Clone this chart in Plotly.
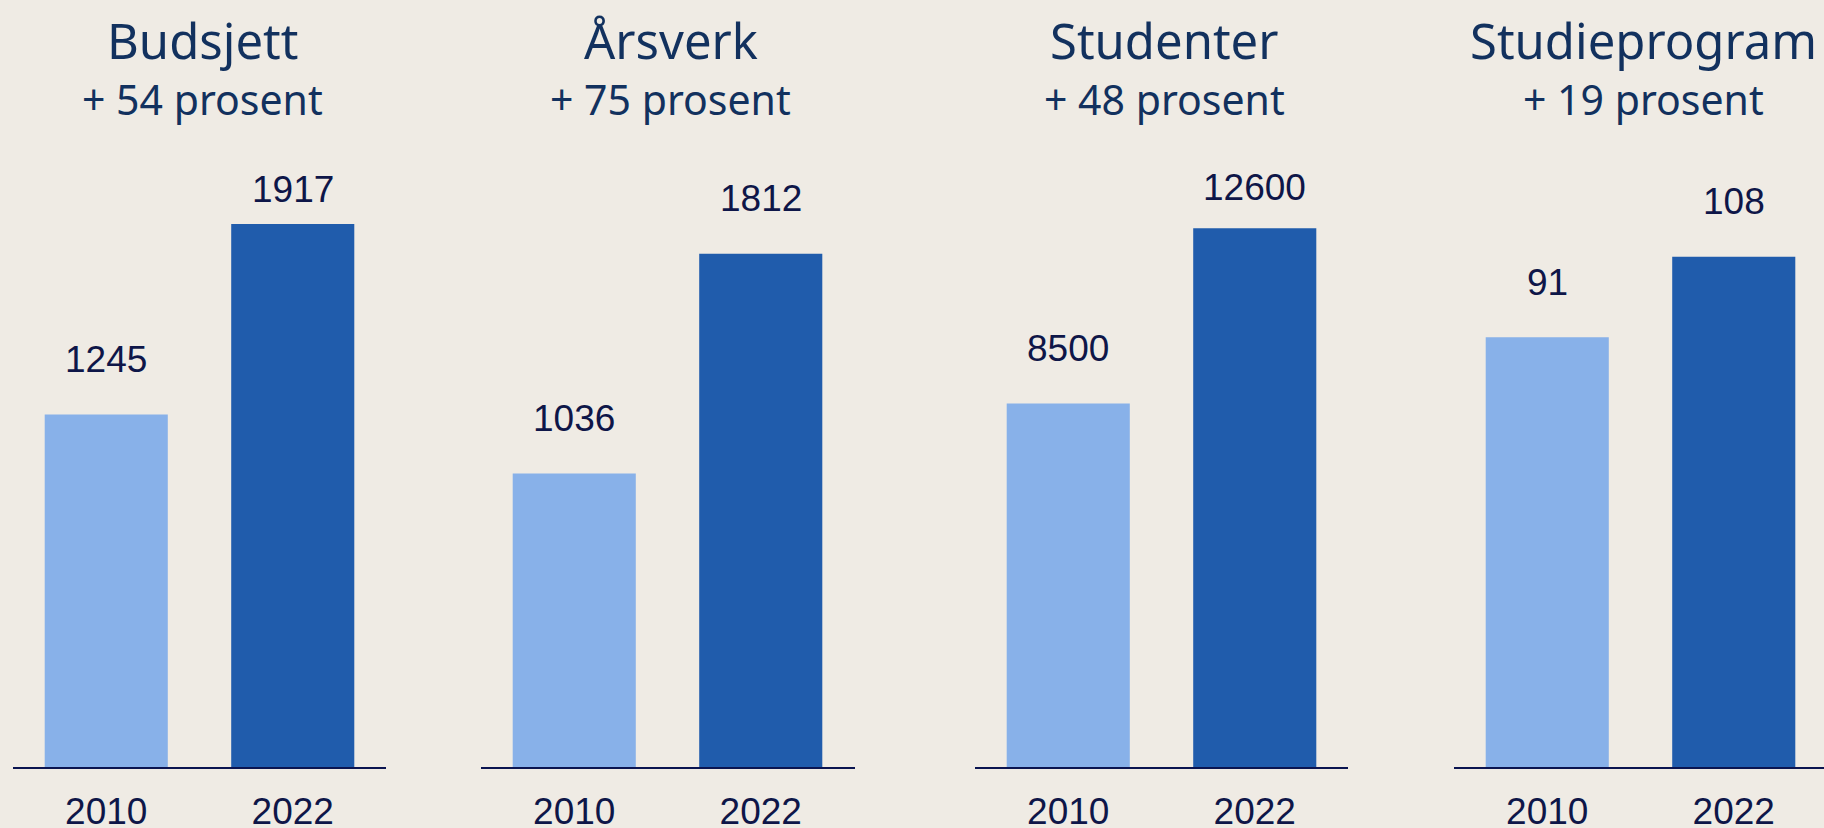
import plotly.graph_objects as go

# ---- data ----
categories = ["2010", "2022"]
panel_titles = ["Budsjett", "Årsverk", "Studenter", "Studieprogram"]
panel_subtitles = ["+ 54 prosent", "+ 75 prosent", "+ 48 prosent", "+ 19 prosent"]
values_2010 = [1245, 1036, 8500, 91]
values_2022 = [1917, 1812, 12600, 108]

# ---- style / layout ----
W, H = 1824, 828
BG = "#EFEBE4"
LIGHT = "#88B1E9"
DARK = "#205CAC"
TITLE_COLOR = "#12315E"
LABEL_COLOR = "#0E1648"
AXIS_COLOR = "#0A1450"

x_domains_px = [(13, 386), (481, 855), (975, 1348), (1454, 1824)]
unit_px = 186.5
y_max = [2355, 2355, 15600, 141.2]
baseline_px = 767
top_px = 100
label_shift = [[55, 35], [55, 55], [55, 41], [55, 55]]

fig = go.Figure()
annotations = []
for i in range(4):
    n = "" if i == 0 else str(i + 1)
    xa, ya = "x" + n, "y" + n
    fig.add_trace(go.Bar(
        x=categories,
        y=[values_2010[i], values_2022[i]],
        marker=dict(color=[LIGHT, DARK], line=dict(width=0)),
        xaxis=xa, yaxis=ya, hoverinfo="skip", showlegend=False,
    ))
    x0, x1 = x_domains_px[i]
    span_units = (x1 - x0) / unit_px
    fig.layout["xaxis" + n] = dict(
        domain=[x0 / W, x1 / W], anchor=ya, type="category",
        range=[-0.5, -0.5 + span_units], automargin=False,
        showline=True, linecolor=AXIS_COLOR, linewidth=1.5,
        showgrid=False, zeroline=False, ticks="",
        tickfont=dict(family="Liberation Sans, Arial", size=37, color=LABEL_COLOR),
        ticklabelstandoff=11,
    )
    fig.layout["yaxis" + n] = dict(
        domain=[(H - baseline_px) / H, (H - top_px) / H], anchor=xa,
        range=[0, y_max[i]], visible=False, showgrid=False, zeroline=False,
        automargin=False,
    )
    vals = [values_2010[i], values_2022[i]]
    for j in range(len(categories)):
        annotations.append(dict(
            x=j, y=vals[j], xref=xa, yref=ya, text=str(vals[j]),
            showarrow=False, yanchor="middle", yshift=label_shift[i][j],
            font=dict(family="Liberation Sans, Arial", size=37, color=LABEL_COLOR),
        ))
    annotations.append(dict(
        x=0.5, y=1 - 40 / H, xref=xa, yref="paper", text=panel_titles[i],
        showarrow=False, yanchor="middle", xshift=3,
        font=dict(family="Noto Sans", size=49, color=TITLE_COLOR),
    ))
    annotations.append(dict(
        x=0.5, y=1 - 99 / H, xref=xa, yref="paper", text=panel_subtitles[i],
        showarrow=False, yanchor="middle", xshift=3,
        font=dict(family="Noto Sans", size=41, color=TITLE_COLOR),
    ))

fig.update_layout(
    width=W, height=H,
    margin=dict(l=0, r=0, t=0, b=0, autoexpand=False),
    paper_bgcolor=BG, plot_bgcolor=BG,
    bargap=0.34,
    annotations=annotations,
    showlegend=False,
)

fig.write_html("out.html", config={"displayModeBar": False},
               post_script="document.body.style.margin='0';")
